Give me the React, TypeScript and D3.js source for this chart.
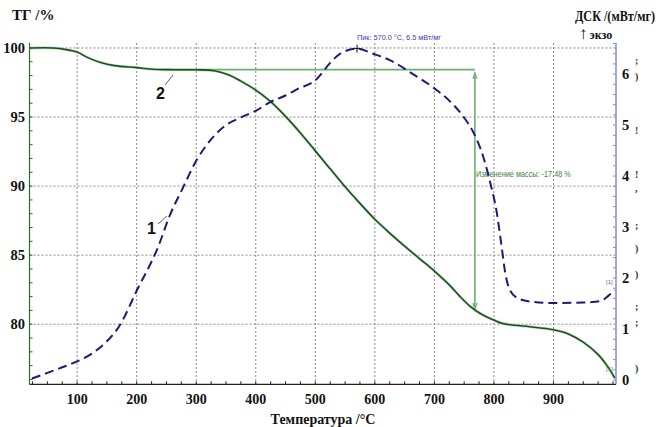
import React from "react";
import * as d3 from "d3";

// ---- Data ----
const tgTemp = [20, 60, 82, 100, 118, 138, 163, 200, 222, 250, 300, 330, 355, 375, 400, 424, 450, 475, 500, 525, 550, 575, 600, 625, 650, 675, 700, 725, 742, 760, 780, 800, 815, 835, 860, 900, 925, 950, 975, 990, 1003];
const tgVal = [100, 100, 99.88, 99.7, 99.3, 98.97, 98.72, 98.58, 98.48, 98.43, 98.42, 98.35, 98.05, 97.6, 96.95, 96.15, 95.05, 93.85, 92.55, 91.25, 89.95, 88.75, 87.6, 86.6, 85.65, 84.75, 83.85, 82.85, 82.05, 81.3, 80.7, 80.3, 80.05, 79.92, 79.82, 79.6, 79.3, 78.7, 77.8, 77.0, 76.1];

const dscTemp = [24, 50, 75, 99, 125, 150, 172, 200, 236, 256, 276, 300, 325, 350, 375, 400, 424, 450, 469, 502, 525, 542, 570, 597, 626, 664, 700, 725, 749, 765, 782, 794, 805, 813, 819, 827, 841, 860, 900, 950, 980, 992, 1003];
const dscVal = [0.03, 0.14, 0.25, 0.36, 0.52, 0.76, 1.08, 1.75, 2.61, 3.24, 3.73, 4.3, 4.72, 5.0, 5.15, 5.28, 5.45, 5.58, 5.7, 5.9, 6.22, 6.4, 6.5, 6.4, 6.27, 6.0, 5.72, 5.48, 5.16, 4.87, 4.38, 3.86, 3.27, 2.61, 2.1, 1.76, 1.6, 1.54, 1.51, 1.52, 1.55, 1.65, 1.76];

const xTicks = [100, 200, 300, 400, 500, 600, 700, 800, 900];
const tgTicks = [80, 85, 90, 95, 100];
const dscTicks = [0, 1, 2, 3, 4, 5, 6];

const tgFlatLevel = 98.43;
const tgFlatFrom = 250;
const massChangeTemp = 768;
const massChangeTop = 98.2;
const massChangeBottom = 81.1;
const peakTemp = 570;
const peakVal = 6.5;

const stray = [
  { y: 60, c: ";" }, { y: 76, c: ")" }, { y: 130, c: "!" }, { y: 174, c: "!" }, { y: 188, c: "," },
  { y: 225, c: ";" }, { y: 248, c: ")" }, { y: 274, c: ")" }, { y: 306, c: ";" }, { y: 322, c: ";" }, { y: 368, c: ")" },
];

const W = 672, H = 427;
const L = 29.5, R = 616, T = 43, B = 384.3;

export default function App() {
  const x = d3.scaleLinear().domain([20, 1005]).range([L, R]);
  const yTG = d3.scaleLinear().domain([75.65, 100.36]).range([B, T]);
  const yDSC = d3.scaleLinear().domain([-0.084, 6.61]).range([B, T]);

  const tgData = tgTemp.map((t, i) => [t, tgVal[i]] as [number, number]);
  const dscData = dscTemp.map((t, i) => [t, dscVal[i]] as [number, number]);

  const tgLine = d3.line<[number, number]>().x(d => x(d[0])).y(d => yTG(d[1])).curve(d3.curveCatmullRom.alpha(0.5));
  const dscLine = d3.line<[number, number]>().x(d => x(d[0])).y(d => yDSC(d[1])).curve(d3.curveMonotoneX);

  const minorX = d3.range(25, 1005, 25);
  const minorTG = d3.range(76, 101, 1);
  const minorDSC = d3.range(0, 6.61, 0.2);

  const serif = "'Liberation Serif', 'Times New Roman', serif";
  const sans = "'Liberation Sans', Arial, sans-serif";
  const ax = x(massChangeTemp);

  return (
    <svg width={W} height={H} style={{ position: "absolute", left: 0, top: 0, background: "#fff" }}>
      {/* grid */}
      <g stroke="#8a8a8a" strokeWidth={1} strokeDasharray="2,2">
        {xTicks.map(t => <line key={"gx" + t} x1={x(t)} x2={x(t)} y1={T} y2={B} />)}
        {tgTicks.map(t => <line key={"gy" + t} x1={L} x2={R} y1={yTG(t)} y2={yTG(t)} />)}
      </g>

      {/* bottom axis */}
      <line x1={L} x2={R} y1={B} y2={B} stroke="#222" strokeWidth={1.2} />
      {minorX.map(t => <line key={"mx" + t} x1={x(t)} x2={x(t)} y1={B} y2={B - 3} stroke="#222" />)}
      {xTicks.map(t => (
        <text key={"xl" + t} x={x(t)} y={404} textAnchor="middle" fontFamily={serif} fontWeight="bold" fontSize={14} fill="#111">{t}</text>
      ))}
      <text x={323} y={424} textAnchor="middle" fontFamily={serif} fontWeight="bold" fontSize={14} fill="#111">Температура /°C</text>

      {/* left axis */}
      <line x1={L} x2={L} y1={T} y2={B} stroke="#2a6a2a" strokeWidth={1.2} />
      {minorTG.map(t => <line key={"mt" + t} x1={L} x2={L + 3} y1={yTG(t)} y2={yTG(t)} stroke="#2a6a2a" />)}
      {tgTicks.map(t => (
        <text key={"tl" + t} x={25} y={yTG(t) + 5} textAnchor="end" fontFamily={serif} fontWeight="bold" fontSize={14.5} fill="#111">{t}</text>
      ))}
      <text x={12} y={20} fontFamily={serif} fontWeight="bold" fontSize={15} fill="#111">ТГ /%</text>

      {/* right axis */}
      <line x1={R} x2={R} y1={T} y2={B} stroke="#8a8ad0" strokeWidth={1.5} />
      {minorDSC.map(t => <line key={"md" + t} x1={R} x2={R - 3} y1={yDSC(t)} y2={yDSC(t)} stroke="#8a8ad0" />)}
      {dscTicks.map(t => (
        <text key={"dl" + t} x={622} y={yDSC(t) + 5} fontFamily={serif} fontWeight="bold" fontSize={14.5} fill="#111">{t}</text>
      ))}
      <text x={575} y={21} fontFamily={serif} fontWeight="bold" fontSize={14} fill="#111" textLength={80} lengthAdjust="spacingAndGlyphs">ДСК /(мВт/мг)</text>
      <text x={579} y={39} fontFamily={serif} fontWeight="bold" fontSize={12} fill="#111"><tspan fontSize={17} fontWeight="normal">↑</tspan><tspan dx={2}>экзо</tspan></text>
      {stray.map((s, i) => (
        <text key={"s" + i} x={635} y={s.y + 4} fontFamily={serif} fontWeight="bold" fontSize={10} fill="#333">{s.c}</text>
      ))}

      {/* mass change annotation */}
      <line x1={x(tgFlatFrom)} x2={ax} y1={yTG(tgFlatLevel)} y2={yTG(tgFlatLevel)} stroke="#6fae6f" strokeWidth={1.6} />
      <line x1={ax} x2={ax} y1={yTG(massChangeTop)} y2={yTG(massChangeBottom)} stroke="#6fae6f" strokeWidth={1.6} />
      <path d={`M${ax - 2},${yTG(massChangeTop) + 6} L${ax},${yTG(massChangeTop)} L${ax + 2},${yTG(massChangeTop) + 6}`} fill="none" stroke="#6fae6f" strokeWidth={1.2} />
      <path d={`M${ax - 2},${yTG(massChangeBottom) - 6} L${ax},${yTG(massChangeBottom)} L${ax + 2},${yTG(massChangeBottom) - 6}`} fill="none" stroke="#6fae6f" strokeWidth={1.2} />
      <text x={ax + 1} y={177} fontFamily={sans} fontSize={8.5} fill="#3f7f3f" textLength={95} lengthAdjust="spacingAndGlyphs">Изменение массы: -17.48 %</text>

      {/* curves */}
      <path d={tgLine(tgData) || ""} fill="none" stroke="#9cc89c" strokeWidth={3} opacity={0.5} />
      <path d={tgLine(tgData) || ""} fill="none" stroke="#1d4f1d" strokeWidth={1.6} />
      <path d={dscLine(dscData) || ""} fill="none" stroke="#1b1b78" strokeWidth={2} strokeDasharray="9,5" />

      {/* peak */}
      <path d={`M${x(peakTemp) - 4},${yDSC(peakVal)} h8 M${x(peakTemp)},${yDSC(peakVal) - 4} v8`} stroke="#111" strokeWidth={1} />
      <text x={x(peakTemp)} y={40} fontFamily={sans} fontSize={8} fill="#3a3aa8" textLength={84} lengthAdjust="spacingAndGlyphs">Пик: 570.0 °C, 6.5 мВт/мг</text>

      {/* [1] markers */}
      <text x={606} y={284} fontFamily={sans} fontSize={6} fill="#5a5ac0">[1]</text>
      <text x={606} y={371} fontFamily={sans} fontSize={6} fill="#3f8f3f">[1]</text>

      {/* curve labels */}
      <text x={147} y={234} fontFamily={sans} fontWeight="bold" fontSize={16} fill="#111">1</text>
      <line x1={158} y1={224} x2={167} y2={216} stroke="#333" strokeWidth={0.8} />
      <text x={156} y={99} fontFamily={sans} fontWeight="bold" fontSize={16} fill="#111">2</text>
      <line x1={165} y1={85} x2={173} y2={75} stroke="#333" strokeWidth={0.8} />
    </svg>
  );
}
